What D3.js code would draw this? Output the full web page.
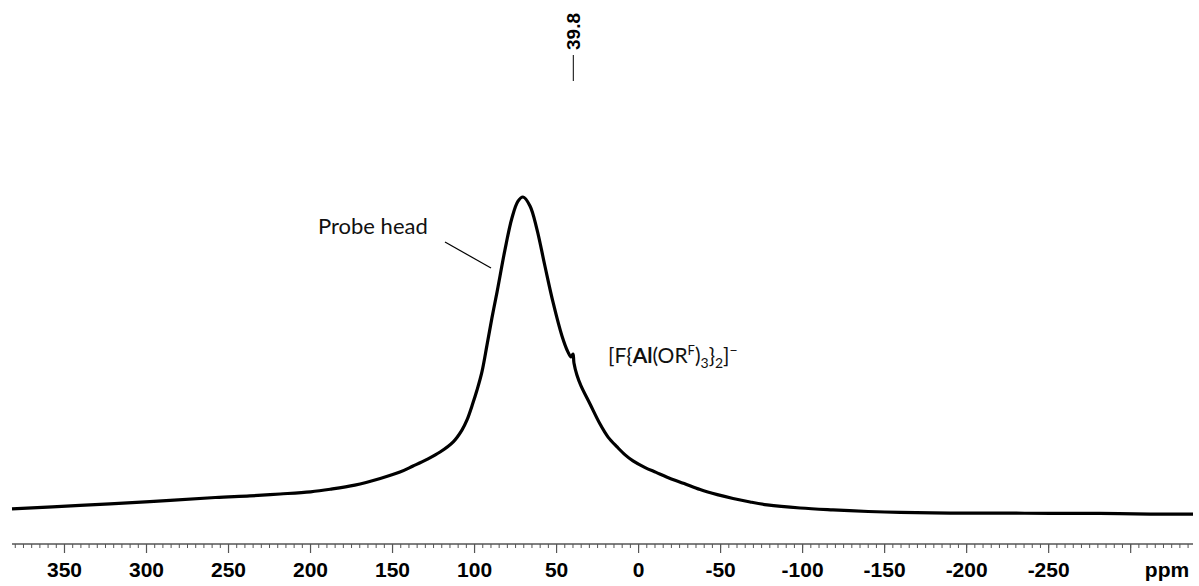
<!DOCTYPE html>
<html>
<head>
<meta charset="utf-8">
<script src="https://cdn.jsdelivr.net/npm/d3@7"></script>
<style>
  body { margin: 0; background: #fff; }
  .tickLabel { font-family: "Liberation Sans", Arial, sans-serif; font-weight: bold; font-size: 21px; }
  .note { font-family: Lato, "Noto Sans", sans-serif; font-size: 21px; fill: #111; }
</style>
</head>
<body>
<div id="chart"></div>
<script>
// spectrum (ppm, relative intensity, peak = 100)
var ppm = [382, 340.5, 298, 258, 237, 218.5, 200, 188, 173, 157.5, 145.5, 137.5, 129, 121, 113, 107.7, 104.6, 101, 98.5, 95.5,
  92.4, 89.4, 86.3, 81.5, 77.2, 73.5, 70.5, 66.2, 62, 57.1, 52.2, 46.7, 43.1, 41.2, 40, 39.4, 37.6, 35.1, 29.6, 23.5,
  18.6, 13.1, 8.2, 3.4, -4, -10.7, -17.4, -27.8, -37.5, -48, -57.6, -68, -78.4, -98.5, -118.5, -140, -159.4, -190, -220, -251,
  -281, -312, -338];
var intensity = [1.9, 3.0, 4.2, 5.5, 6.0, 6.6, 7.3, 8.1, 9.4, 11.5, 13.5, 15.4, 17.5, 19.8, 23.0, 26.7, 29.9, 35.2, 39.3, 45.0,
  53.5, 62.0, 70.1, 83.3, 93.4, 98.7, 100, 97.2, 89.9, 78.3, 67.0, 56.3, 51.3, 49.7, 50.6, 47.8, 44.0, 40.6, 34.9, 28.6,
  24.5, 21.4, 18.9, 17.0, 14.9, 13.4, 11.9, 9.9, 8.0, 6.4, 5.2, 4.1, 3.2, 2.2, 1.6, 1.1, 0.8, 0.6, 0.6, 0.5,
  0.5, 0.3, 0.3];

var majorTicks = [350, 300, 250, 200, 150, 100, 50, 0, -50, -100, -150, -200, -250, -300];
var tickLabels = ["350", "300", "250", "200", "150", "100", "50", "0", "-50", "-100", "-150", "-200", "-250", ""];
var minorTicks = d3.range(380, -340, -5);

var peakLabel = "39.8";
var peakPpm = 39.8;

var svgWidth = 1199;
var svgHeight = 586;

var svg = d3.select("#chart")
  .append("svg")
  .attr("width", svgWidth)
  .attr("height", svgHeight);

var xScale = d3.scaleLinear()
  .domain([382, -338])
  .range([12, 1193]);

var yScale = d3.scaleLinear()
  .domain([0, 100])
  .range([515, 197]);

var data = ppm.map((p, i) => ({ppm: p, y: intensity[i]}));

// spectrum trace
var line = d3.line()
  .x(d => xScale(d.ppm))
  .y(d => yScale(d.y))
  .curve(d3.curveCatmullRom.alpha(0.5));

svg.append("path")
  .datum(data)
  .attr("d", line)
  .attr("fill", "none")
  .attr("stroke", "#000")
  .attr("stroke-width", 3.2)
  .attr("stroke-linejoin", "round");

// axis
var axisY = 544;
var axisG = svg.append("g").attr("transform", `translate(0, ${axisY})`);

axisG.append("line")
  .attr("x1", xScale.range()[0])
  .attr("x2", xScale.range()[1])
  .attr("stroke", "#555")
  .attr("stroke-width", 1.5);

axisG.selectAll(".minor")
  .data(minorTicks)
  .enter().append("line")
  .attr("class", "minor")
  .attr("x1", d => xScale(d))
  .attr("x2", d => xScale(d))
  .attr("y1", 0)
  .attr("y2", 4)
  .attr("stroke", "#555")
  .attr("stroke-width", 1);

axisG.selectAll(".major")
  .data(majorTicks)
  .enter().append("line")
  .attr("class", "major")
  .attr("x1", d => xScale(d))
  .attr("x2", d => xScale(d))
  .attr("y1", 0)
  .attr("y2", 9)
  .attr("stroke", "#555")
  .attr("stroke-width", 1.2);

axisG.selectAll(".tickLabel")
  .data(majorTicks)
  .enter().append("text")
  .attr("class", "tickLabel")
  .attr("x", d => xScale(d))
  .attr("y", 33)
  .attr("text-anchor", "middle")
  .text((d, i) => tickLabels[i]);

axisG.append("text")
  .attr("class", "tickLabel")
  .attr("x", 1167)
  .attr("y", 33)
  .attr("text-anchor", "middle")
  .text("ppm");

// peak pick label
var px = xScale(peakPpm);
svg.append("line")
  .attr("x1", px).attr("x2", px)
  .attr("y1", 55).attr("y2", 81)
  .attr("stroke", "#000")
  .attr("stroke-width", 1);

svg.append("text")
  .attr("class", "tickLabel")
  .style("font-size", "19px")
  .attr("transform", `translate(${px + 7}, 50) rotate(-90)`)
  .attr("text-anchor", "start")
  .text(peakLabel);

// annotations
svg.append("text")
  .attr("class", "note")
  .style("font-size", "22px")
  .attr("x", 318)
  .attr("y", 234)
  .text("Probe head");

svg.append("line")
  .attr("x1", 445).attr("y1", 242)
  .attr("x2", 491).attr("y2", 268)
  .attr("stroke", "#000")
  .attr("stroke-width", 1.2);

var formula = svg.append("text")
  .attr("class", "note")
  .attr("x", 608)
  .attr("y", 363);
formula.append("tspan").text("[F{");
formula.append("tspan").attr("font-weight", "bold").text("Al");
formula.append("tspan").text("(OR");
formula.append("tspan").attr("font-size", "13px").attr("dy", -8).text("F");
formula.append("tspan").attr("dy", 8).text(")");
formula.append("tspan").attr("font-size", "14px").attr("dy", 5).text("3");
formula.append("tspan").attr("dy", -5).text("}");
formula.append("tspan").attr("font-size", "14px").attr("dy", 5).text("2");
formula.append("tspan").attr("dy", -5).text("]");
formula.append("tspan").attr("font-size", "14px").attr("dy", -8).text("\u2212");
</script>
</body>
</html>
